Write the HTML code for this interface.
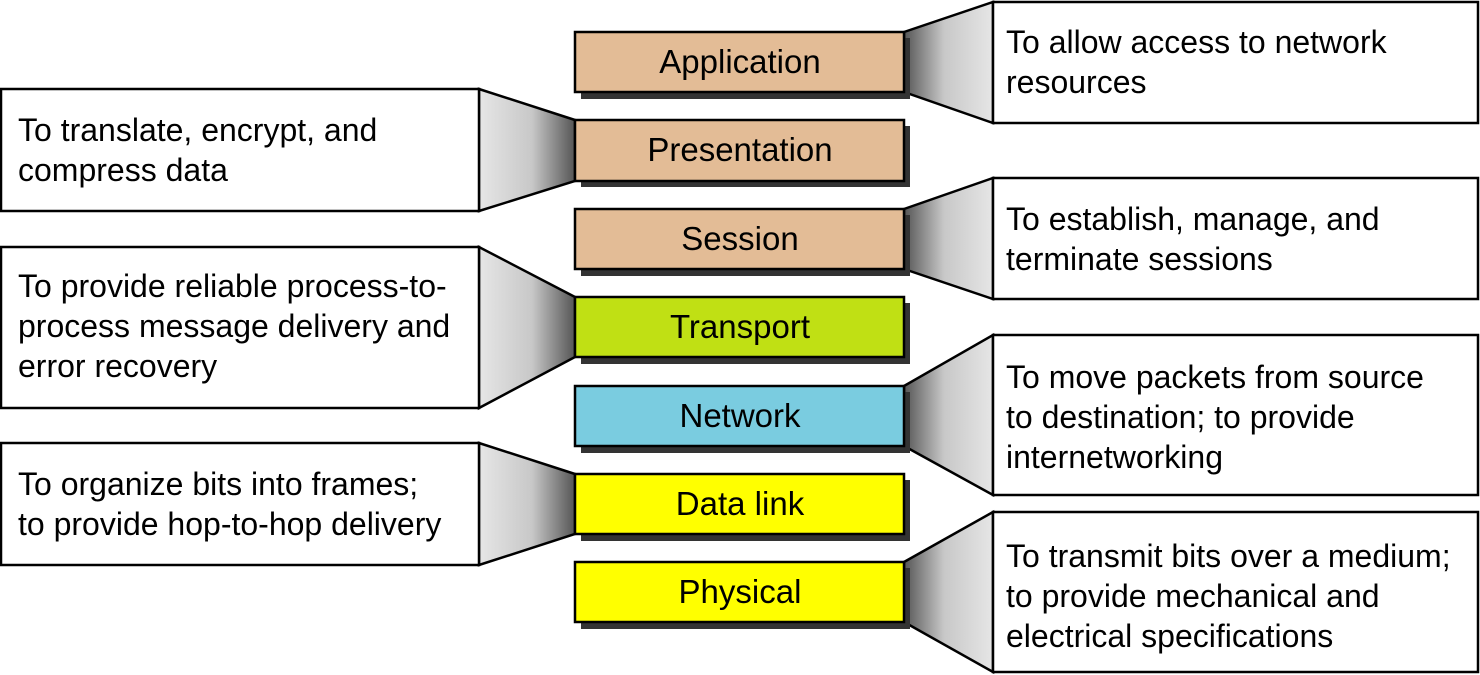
<!DOCTYPE html>
<html><head><meta charset="utf-8"><style>
html,body{margin:0;padding:0;background:#fff;}
svg{display:block;}
text{font-family:"Liberation Sans",sans-serif;font-size:32px;fill:#000;}
text.l{font-size:33px;}
</style></head><body>
<svg width="1480" height="675" viewBox="0 0 1480 675" xmlns="http://www.w3.org/2000/svg">
<defs>
<linearGradient id="gr" x1="0" x2="1" y1="0" y2="0">
<stop offset="0" stop-color="#555"/><stop offset="0.45" stop-color="#c8c8c8"/><stop offset="1" stop-color="#e6e6e6"/>
</linearGradient>
<linearGradient id="gl" x1="1" x2="0" y1="0" y2="0">
<stop offset="0" stop-color="#555"/><stop offset="0.45" stop-color="#c8c8c8"/><stop offset="1" stop-color="#e6e6e6"/>
</linearGradient>
</defs>
<g stroke="#000" stroke-width="2.5">
<polygon points="904,32 993,2 993,123 904,92" fill="url(#gr)"/>
<polygon points="904,209 993,178 993,299 904,269" fill="url(#gr)"/>
<polygon points="904,386 993,335 993,495 904,446" fill="url(#gr)"/>
<polygon points="904,562 993,512 993,672 904,622" fill="url(#gr)"/>
<polygon points="575,120 479,89 479,211 575,181" fill="url(#gl)"/>
<polygon points="575,297 479,247 479,408 575,357" fill="url(#gl)"/>
<polygon points="575,474 479,443 479,565 575,534" fill="url(#gl)"/>
<rect x="993" y="2" width="485" height="121" fill="#fff"/>
<rect x="993" y="178" width="485" height="121" fill="#fff"/>
<rect x="993" y="335" width="485" height="160" fill="#fff"/>
<rect x="993" y="512" width="485" height="160" fill="#fff"/>
<rect x="1" y="89" width="478" height="122" fill="#fff"/>
<rect x="1" y="247" width="478" height="161" fill="#fff"/>
<rect x="1" y="443" width="478" height="122" fill="#fff"/>
</g>
<g fill="#333">
<rect x="581" y="38" width="329" height="61"/>
<rect x="581" y="126" width="329" height="61"/>
<rect x="581" y="215" width="329" height="61"/>
<rect x="581" y="303" width="329" height="61"/>
<rect x="581" y="392" width="329" height="61"/>
<rect x="581" y="480" width="329" height="61"/>
<rect x="581" y="568" width="329" height="61"/>
</g>
<g stroke="#000" stroke-width="2.5">
<rect x="575" y="32" width="329" height="60" fill="#E3BC96"/>
<rect x="575" y="120" width="329" height="61" fill="#E3BC96"/>
<rect x="575" y="209" width="329" height="60" fill="#E3BC96"/>
<rect x="575" y="297" width="329" height="60" fill="#C0E014"/>
<rect x="575" y="386" width="329" height="60" fill="#7ACCE0"/>
<rect x="575" y="474" width="329" height="60" fill="#FFFF00"/>
<rect x="575" y="562" width="329" height="60" fill="#FFFF00"/>
</g>
<g text-anchor="middle">
<text class="l" x="740" y="73">Application</text>
<text class="l" x="740" y="161">Presentation</text>
<text class="l" x="740" y="250">Session</text>
<text class="l" x="740" y="338">Transport</text>
<text class="l" x="740" y="427">Network</text>
<text class="l" x="740" y="515">Data link</text>
<text class="l" x="740" y="603">Physical</text>
</g>
<text x="1006" y="53">To allow access to network</text>
<text x="1006" y="93">resources</text>
<text x="1006" y="230">To establish, manage, and</text>
<text x="1006" y="270">terminate sessions</text>
<text x="1006" y="388">To move packets from source</text>
<text x="1006" y="428">to destination; to provide</text>
<text x="1006" y="468">internetworking</text>
<text x="1006" y="567">To transmit bits over a medium;</text>
<text x="1006" y="607">to provide mechanical and</text>
<text x="1006" y="647">electrical specifications</text>
<text x="18" y="141">To translate, encrypt, and</text>
<text x="18" y="181">compress data</text>
<text x="18" y="297">To provide reliable process-to-</text>
<text x="18" y="337">process message delivery and</text>
<text x="18" y="377">error recovery</text>
<text x="18" y="495">To organize bits into frames;</text>
<text x="18" y="535">to provide hop-to-hop delivery</text>
</svg>
</body></html>
